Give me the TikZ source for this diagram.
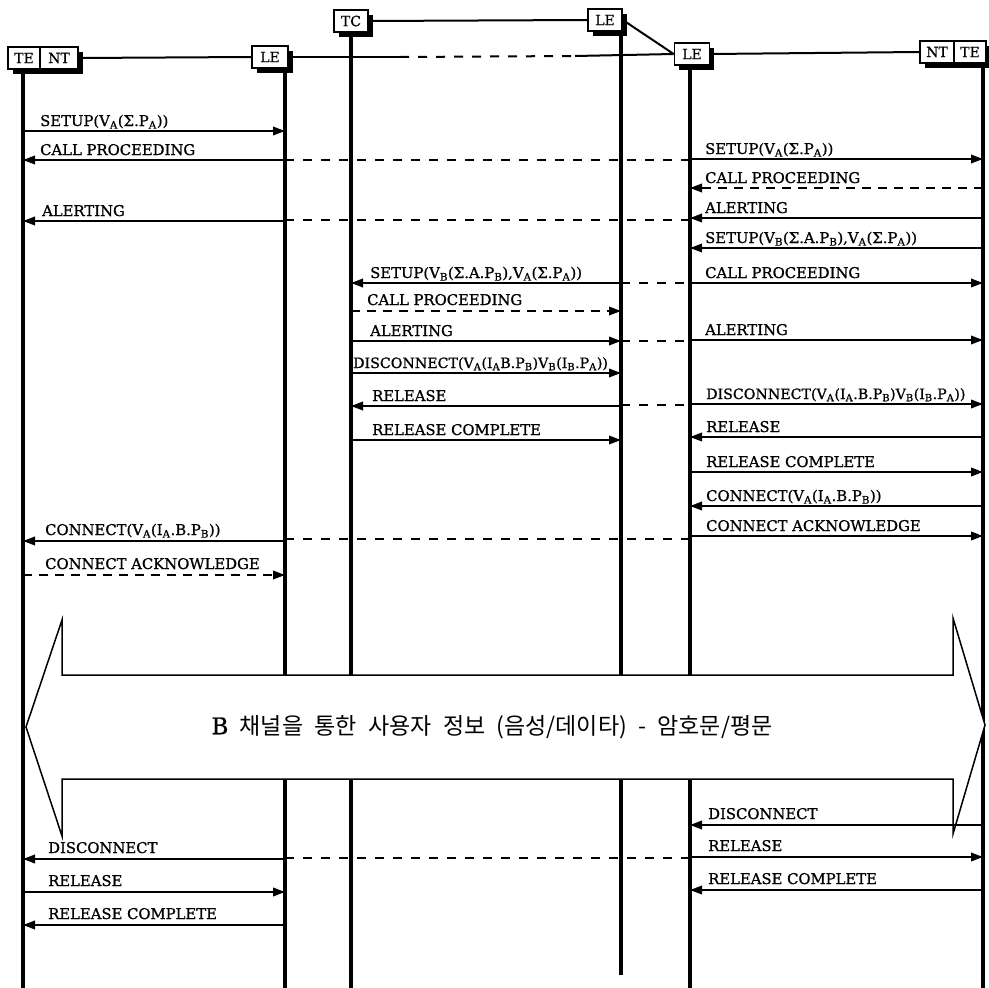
\documentclass[tikz,border=0pt]{standalone}
\usepackage{fontspec}
\setmainfont[FakeBold=0.9]{DejaVu Serif}
\newfontfamily\krfont[WordSpace=2.2]{Noto Sans CJK KR}
\usetikzlibrary{arrows.meta,shadows}
\newcommand{\lo}[1]{\textsubscript{#1}}
\begin{document}
\begin{tikzpicture}[x=1pt,y=-1pt,
  ent/.style={draw, line width=1.7pt, fill=white, inner sep=0pt,
    font=\fontsize{14}{14}\selectfont, minimum height=22pt,
    drop shadow={shadow xshift=4.5pt, shadow yshift=-5pt, fill=black, opacity=1}},
  life/.style={line width=3.8pt},
  hdr/.style={line width=2pt},
  hdrdash/.style={line width=2pt, dash pattern=on 9pt off 9pt},
  msg/.style={line width=2pt, -{Triangle[length=12pt,width=8.5pt]}},
  dmsg/.style={msg, dash pattern=on 9pt off 7pt},
  link/.style={line width=2pt, dash pattern=on 9pt off 9pt},
  lab/.style={anchor=base west, inner sep=0pt, font=\fontsize{14.8}{15}\selectfont},
  longlab/.style={lab, font=\fontsize{14.2}{15}\selectfont},
  band/.style={draw, line width=1.5pt, fill=white, line join=miter},
  bandtext/.style={font=\fontsize{23}{23}\krfont}
]
\useasboundingbox (0,0) rectangle (988,988);

% lifeline x positions
\coordinate (lA) at (23,0);
\coordinate (lB) at (285,0);
\coordinate (lC) at (351,0);
\coordinate (lD) at (621,0);
\coordinate (lE) at (690,0);
\coordinate (lF) at (983,0);
\coordinate (bot) at (0,990);
\coordinate (botD) at (0,975);

% entity boxes
\node[ent, minimum width=32pt] (teL) at (24,58) {TE};
\node[ent, minimum width=38pt] (ntL) at (59,58) {NT};
\node[ent, minimum width=36pt] (leL) at (270,57) {LE};
\node[ent, minimum width=34pt] (tc) at (351,21) {TC};
\node[ent, minimum width=34pt] (leM) at (605,20) {LE};
\node[ent, minimum width=35pt] (leR) at (692,54) {LE};
\node[ent, minimum width=34pt] (ntR) at (937,52) {NT};
\node[ent, minimum width=32pt] (teR) at (970,52) {TE};

% lifelines
\draw[life] (lA |- teL.south) -- (lA |- bot);
\draw[life] (lB |- leL.south) -- (lB |- bot);
\draw[life] (lC |- tc.south) -- (lC |- bot);
\draw[life] (lD |- leM.south) -- (lD |- botD);
\draw[life] (lE |- leR.south) -- (lE |- bot);
\draw[life] (lF |- teR.south) -- (lF |- bot);

% header links
\coordinate (h1) at (400,57);
\coordinate (h2) at (575,56);
\draw[hdr] (ntL.east) -- (leL.west);
\draw[hdr] (leL.east) -- (h1);
\draw[hdrdash] (h1) -- (h2);
\draw[hdr] (h2) -- (leR.west);
\draw[hdr] (tc.east) -- (leM.west);
\draw[hdr] (leM.east) -- (leR.west);
\draw[hdr] (leR.east) -- (ntR.west);

% ---------------- messages ----------------
\draw[msg] (lA |- 0,131) -- (lB |- 0,131);
\node[lab] (t1) at (40,126) {SETUP(V\lo{A}(Σ.P\lo{A}))};
\draw[msg] (lB |- 0,160) -- (lA |- 0,160);
\node[lab] (t2) at (40,155) {CALL PROCEEDING};
\draw[link] (lB |- 0,160) -- (lE |- 0,160);
\draw[msg] (lE |- 0,159) -- (lF |- 0,159);
\node[lab] (t3) at (705,154) {SETUP(V\lo{A}(Σ.P\lo{A}))};
\draw[dmsg] (lF |- 0,188) -- (lE |- 0,188);
\node[lab] (t4) at (705,183) {CALL PROCEEDING};
\draw[msg] (lF |- 0,218) -- (lE |- 0,218);
\node[lab] (t5) at (705,213) {ALERTING};
\draw[link] (lE |- 0,220) -- (lB |- 0,220);
\draw[msg] (lB |- 0,221) -- (lA |- 0,221);
\node[lab] (t6) at (42,216) {ALERTING};
\draw[msg] (lF |- 0,248) -- (lE |- 0,248);
\node[lab] (t7) at (705,243) {SETUP(V\lo{B}(Σ.A.P\lo{B}),V\lo{A}(Σ.P\lo{A}))};
\draw[msg] (lD |- 0,283) -- (lC |- 0,283);
\node[lab] (t8) at (370,278) {SETUP(V\lo{B}(Σ.A.P\lo{B}),V\lo{A}(Σ.P\lo{A}))};
\draw[link] (lD |- 0,283) -- (lE |- 0,283);
\draw[msg] (lE |- 0,283) -- (lF |- 0,283);
\node[lab] (t9) at (705,278) {CALL PROCEEDING};
\draw[dmsg] (lC |- 0,311) -- (lD |- 0,311);
\node[lab] (t10) at (367,305) {CALL PROCEEDING};
\draw[msg] (lC |- 0,341) -- (lD |- 0,341);
\node[lab] (t11) at (370,336) {ALERTING};
\draw[link] (lD |- 0,341) -- (lE |- 0,341);
\draw[msg] (lE |- 0,340) -- (lF |- 0,340);
\node[lab] (t12) at (705,335) {ALERTING};
\draw[msg] (lC |- 0,373) -- (lD |- 0,373);
\node[longlab] (t13) at (353,368) {DISCONNECT(V\lo{A}(I\lo{A}B.P\lo{B})V\lo{B}(I\lo{B}.P\lo{A}))};
\draw[msg] (lD |- 0,406) -- (lC |- 0,406);
\node[lab] (t14) at (372,401) {RELEASE};
\draw[link] (lD |- 0,405) -- (lE |- 0,405);
\draw[msg] (lE |- 0,404) -- (lF |- 0,404);
\node[longlab] (t15) at (706,399) {DISCONNECT(V\lo{A}(I\lo{A}.B.P\lo{B})V\lo{B}(I\lo{B}.P\lo{A}))};
\draw[msg] (lC |- 0,440) -- (lD |- 0,440);
\node[lab] (t16) at (372,435) {RELEASE COMPLETE};
\draw[msg] (lF |- 0,437) -- (lE |- 0,437);
\node[lab] (t17) at (706,432) {RELEASE};
\draw[msg] (lE |- 0,472) -- (lF |- 0,472);
\node[lab] (t18) at (706,467) {RELEASE COMPLETE};
\draw[msg] (lF |- 0,506) -- (lE |- 0,506);
\node[lab] (t19) at (706,501) {CONNECT(V\lo{A}(I\lo{A}.B.P\lo{B}))};
\draw[msg] (lE |- 0,536) -- (lF |- 0,536);
\node[lab] (t20) at (706,531) {CONNECT ACKNOWLEDGE};
\draw[link] (lE |- 0,539) -- (lB |- 0,539);
\draw[msg] (lB |- 0,541) -- (lA |- 0,541);
\node[lab] (t21) at (45,535) {CONNECT(V\lo{A}(I\lo{A}.B.P\lo{B}))};
\draw[dmsg] (lA |- 0,575) -- (lB |- 0,575);
\node[lab] (t22) at (45,569) {CONNECT ACKNOWLEDGE};

% ---------------- user information band ----------------
\draw[band] (26,727) -- (62,620) -- (62,675) -- (953,675) -- (953,618)
  -- (985,725) -- (953,834) -- (953,779) -- (62,779) -- (62,836) -- cycle;
\node[bandtext] (bt) at (492,727) {{\rmfamily B} 채널을 통한 사용자 정보 (음성/데이타) - 암호문/평문};

% ---------------- release ----------------
\draw[msg] (lF |- 0,825) -- (lE |- 0,825);
\node[lab] (t23) at (708,819) {DISCONNECT};
\draw[msg] (lB |- 0,859) -- (lA |- 0,859);
\node[lab] (t24) at (48,853) {DISCONNECT};
\draw[link] (lB |- 0,858) -- (lE |- 0,858);
\draw[msg] (lE |- 0,857) -- (lF |- 0,857);
\node[lab] (t25) at (708,851) {RELEASE};
\draw[msg] (lA |- 0,892) -- (lB |- 0,892);
\node[lab] (t26) at (48,886) {RELEASE};
\draw[msg] (lF |- 0,890) -- (lE |- 0,890);
\node[lab] (t27) at (708,884) {RELEASE COMPLETE};
\draw[msg] (lB |- 0,925) -- (lA |- 0,925);
\node[lab] (t28) at (48,919) {RELEASE COMPLETE};
\end{tikzpicture}
\end{document}
